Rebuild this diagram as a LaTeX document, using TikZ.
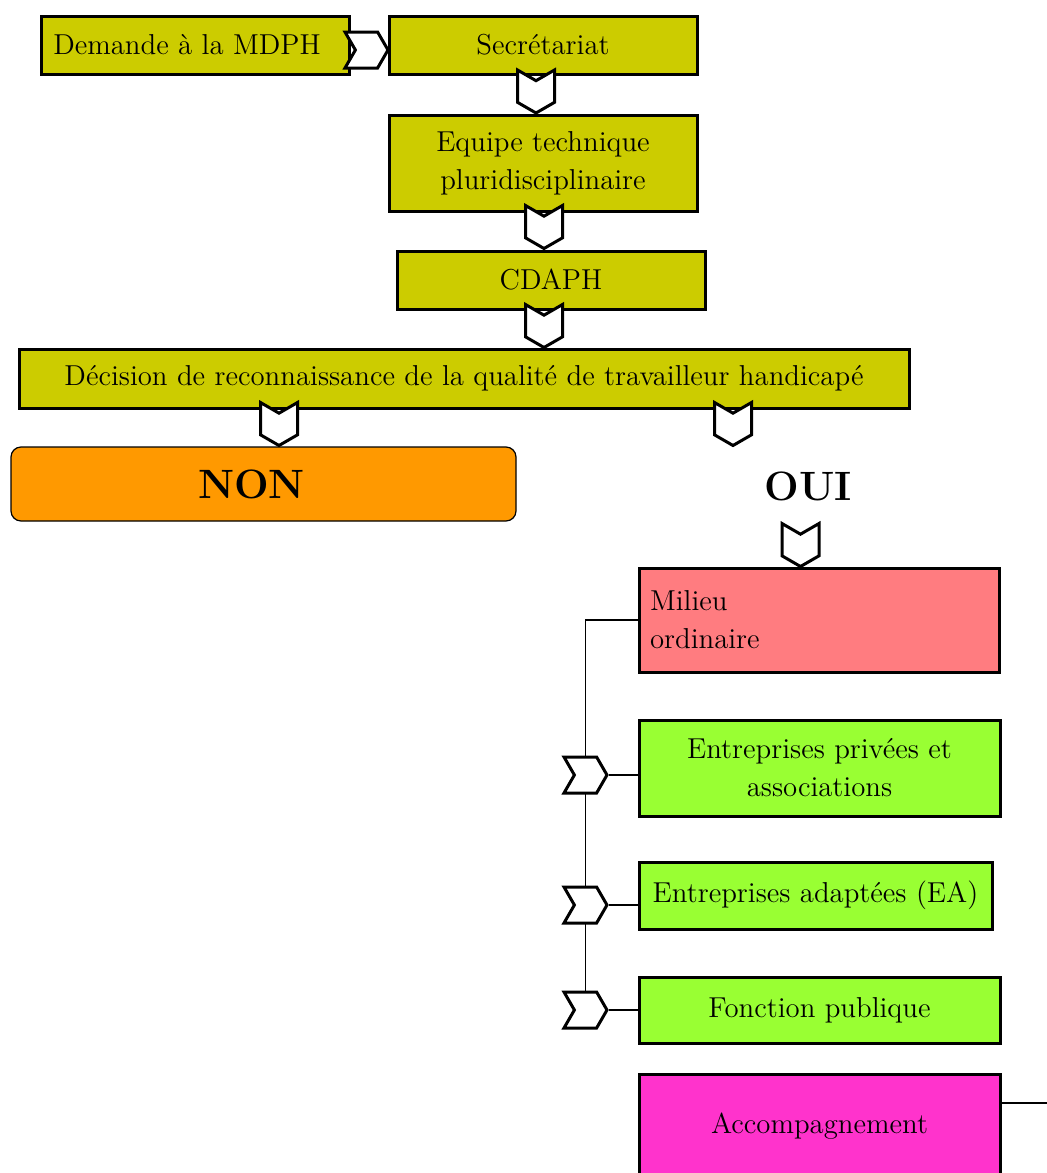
\documentclass[tikz,border=0pt]{standalone}
\usepackage{tikz}
\usetikzlibrary{shapes.symbols,backgrounds,positioning}
\definecolor{oliv}{RGB}{204,204,0}
\definecolor{nonorange}{RGB}{255,153,0}
\definecolor{lachs}{RGB}{255,124,128}
\definecolor{gruen}{RGB}{153,255,51}
\definecolor{magenta2}{RGB}{255,51,204}

\begin{document}
\begin{tikzpicture}[x=0.5pt,y=-0.5pt,
  kasten/.style={draw=black,line width=1.5pt,fill=oliv,inner sep=2pt,align=center,font=\fontsize{14.4}{19}\selectfont},
  gross/.style={font=\fontsize{20.5}{24}\selectfont\bfseries},
  pfeilR/.style={signal,signal from=west,signal to=east,signal pointer angle=120,draw=black,line width=1.5pt,fill=white,inner sep=0pt,minimum width=21.5pt,minimum height=18pt},
  pfeilU/.style={pfeilR,rotate=-90,minimum width=21.5pt,minimum height=18.5pt},
  linie/.style={draw=black,line width=0.8pt}
]
%Koordinaten in Pixeln des Originals, 1px = 0.5pt
\clip (0,0) rectangle (1046,1173);
\useasboundingbox (0,0) rectangle (1046,1173);

\node[kasten,minimum width=154pt,minimum height=29pt] (demande) at (195,45) {\hspace*{-8pt}Demande à la MDPH};
\node[kasten,minimum width=154pt,minimum height=29pt] (secretariat) at (543,45) {Secrétariat};
\node[kasten,minimum width=154pt,minimum height=48pt] (equipe) at (543,163) {Equipe technique\\pluridisciplinaire};
\node[kasten,minimum width=154pt,minimum height=29pt] (cdaph) at (551,280) {CDAPH};
\node[kasten,minimum width=445pt,minimum height=29.5pt] (decision) at (464,378.5) {Décision de reconnaissance de la qualité de travailleur handicapé};

\node[draw=black,line width=0.6pt,rounded corners=5pt,fill=nonorange,gross,minimum width=252.5pt,minimum height=37pt] (non) at (263.5,484) {\hspace*{-12pt}NON};
\node[gross,inner sep=0pt] (oui) at (808,486) {OUI};

%Pfeile zwischen den Kaesten
\node[pfeilR] (p0) at (366.5,50) {};
\node[pfeilU] (p1) at (536,91.5) {};
\node[pfeilU] (p2) at (544,227) {};
\node[pfeilU] (p3) at (544,326) {};
\node[pfeilU] (p4) at (279,424) {};
\node[pfeilU] (p5) at (733,424) {};
\node[pfeilU] (p6) at (800.5,545) {};

%rechte Spalte
\node[kasten,fill=lachs,align=left,text width=169pt,inner xsep=5.5pt,inner ysep=2pt,minimum height=52pt] (milieu) at (819,620) {Milieu\\ordinaire};
\node[kasten,fill=gruen,minimum width=180.5pt,minimum height=48pt] (privees) at (819.5,768) {Entreprises privées et\\associations};
\node[kasten,fill=gruen,minimum width=176.5pt,minimum height=33.5pt] (ea) at (815.5,895.5) {Entreprises adaptées (EA)};
\node[kasten,fill=gruen,minimum width=180.5pt,minimum height=33pt] (fonction) at (819.5,1010) {Fonction publique};
\node[kasten,fill=magenta2,minimum width=180.5pt,minimum height=52pt] (accomp) at (819.5,1126) {Accompagnement};

\foreach \n/\y in {r1/775,r2/905,r3/1010}{
  \node[pfeilR] (\n) at (585.5,\y) {};
}
\coordinate (rand) at (1050,1103);

\begin{scope}[on background layer]
  \draw[linie] (milieu.west) -| (r3.center);
  \foreach \n/\k in {r1/privees,r2/ea,r3/fonction}{
    \draw[linie] (\n.east) -- (\n.east -| \k.west);
  }
  \draw[linie] (accomp.east |- rand) -- (rand);
\end{scope}
\end{tikzpicture}
\end{document}
